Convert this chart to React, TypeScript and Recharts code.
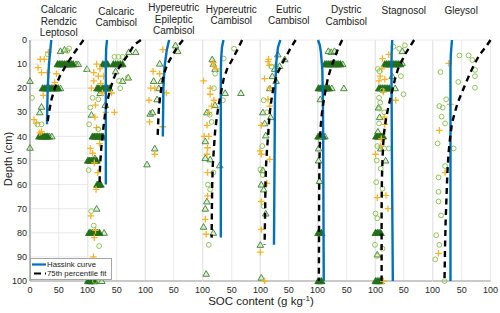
import React from "react";
import { ScatterChart, Scatter, XAxis, YAxis, CartesianGrid } from "recharts";

// ─── Data: [SOC content (g/kg), depth (cm)] ──────────────────────────────────
type P = [number, number];

const titles = [
  ["Calcaric", "Rendzic", "Leptosol"],
  ["Calcaric", "Cambisol"],
  ["Hypereutric", "Epileptic", "Cambisol"],
  ["Hypereutric", "Cambisol"],
  ["Eutric", "Cambisol"],
  ["Dystric", "Cambisol"],
  ["Stagnosol"],
  ["Gleysol"],
];

const xTicks = [0, 50, 100];
const depthTicks = [0, 10, 20, 30, 40, 50, 60, 70, 80, 90, 100];

const hassink: P[][] = [
  [[37, 0], [35, 5], [33, 10], [31, 19], [30, 28], [29.6, 35]],
  [[33, 0], [31.5, 4], [31, 10], [31, 60]],
  [[42, 0], [38, 4], [34, 11], [32, 20], [31, 40]],
  [[35.6, 0], [33, 3], [31.5, 8], [31, 14], [31, 82]],
  [[35.4, 0], [31.3, 3], [28, 10], [26, 25], [24.3, 85]],
  [[0, 0], [3, 2], [5, 5], [7.5, 12], [8.5, 25], [9, 40], [10, 100]],
  [[30, 0], [29, 5], [28.6, 12], [29.5, 50], [31, 100]],
  [[33, 0], [31, 6], [30.4, 12], [30.4, 100]],
];

const fit75: P[][] = [
  [[93, 0], [78, 5], [64, 10], [52, 15], [43, 20], [37, 25], [33, 30], [30, 35]],
  [[92, 0], [80, 2], [70, 6], [58, 10], [50, 13], [43, 17], [38, 21], [34, 25], [30, 30], [26, 38], [23, 45], [21, 52], [20, 60]],
  [[66, 0], [56, 3], [46, 7], [39, 10], [33, 14], [29, 19], [26, 24], [24, 29], [23, 34], [22, 40]],
  [[68, 0], [60, 4], [50, 8.5], [42, 12], [36, 16], [32, 21], [28, 26], [24, 32], [21, 38], [19, 45], [17, 52], [16, 60], [15.5, 70], [15, 82]],
  [[62, 0], [54, 3], [45, 7], [38, 10], [30, 14], [25, 18], [21, 23], [18, 28], [16, 33], [14, 40], [12, 46], [10.5, 52], [9.5, 60], [9, 70], [8, 85]],
  [[42, 0], [35, 3.5], [28, 8], [22, 12], [17, 16], [13, 21], [10, 25], [7, 30], [5, 35], [3.5, 40], [2.5, 50], [2, 65], [1.5, 100]],
  [[68, 0], [60, 3], [52, 6], [46, 9], [40, 12], [35, 16], [31, 20], [27, 24], [23, 28], [19, 33], [16, 38], [14, 44], [13, 50], [12, 58], [11.5, 70], [11.5, 100]],
  [[100, 0], [93, 2.5], [80, 6.5], [72, 10], [64, 14], [56, 18.5], [49, 22.5], [43, 26], [38, 30], [33, 34.5], [30, 40], [27, 47], [25, 55], [23.5, 65], [22, 75], [21, 85], [20, 100]],
];

const triangles: P[][] = [
  [[53, 4.6], [60, 4], [99, 12], [0, 17], [20, 27.7], [17, 30], [0, 44.7], [80, 10], [84, 10], [53, 20], [34, 40], [38, 40]],
  [[83, 5], [71, 5], [48, 13], [60, 17], [70, 15.6], [21, 22], [30, 27], [6, 31], [25, 40.5], [12, 49], [15, 70], [28, 80], [24, 100]],
  [[53, 2.2], [57, 4.6], [25.5, 9.8], [15, 17], [28, 17], [24, 20], [21, 24.6], [9, 30.6], [13, 30], [17, 45], [3.5, 51.6]],
  [[18, 10], [21, 12], [16, 8], [38.5, 22], [66, 22], [21, 27], [6.7, 30], [4, 42], [12.5, 49.5], [4, 49], [29, 52], [6.7, 67], [4, 70], [1, 77.5], [18, 80], [5.5, 97]],
  [[31, 6], [43, 8], [34, 10.8], [25.5, 12], [21.4, 15], [28, 17], [17, 20], [18.5, 32], [5, 30], [8, 34.6], [10, 39.6], [5, 54], [2.3, 60], [6.4, 62], [10, 72], [0.6, 85], [2.3, 98.6]],
  [[18, 4.6], [23, 5], [28.7, 4.6], [43, 10], [45, 20], [24, 20], [4, 24.6], [12, 40], [1, 45], [1, 50], [2.6, 58.5]],
  [[47.5, 4.6], [47, 9.5], [30, 15], [35, 20], [6, 28], [8, 32], [5, 38], [10, 45], [18.5, 50], [4, 89]],
  [],
];

const denseTriangles: P[][] = [
  [[48, 10], [51, 10], [54, 10], [57, 10], [60, 10], [63, 10], [66, 10], [69, 10], [72, 10], [75, 10],
   [22, 20], [25, 20], [28, 20], [31, 20], [34, 20], [37, 20], [40, 20], [43, 20], [46, 20], [49, 20],
   [16, 40], [19, 40], [22, 40], [25, 40], [28, 40], [31, 40]],
  [[26, 10], [30, 10], [34, 10], [44, 10], [48, 10], [52, 10], [56, 10], [60, 10],
   [16, 20], [19, 20], [22, 20], [25, 20], [28, 20], [31, 20], [34, 20], [37, 20],
   [8, 40], [11, 40], [14, 40], [17, 40], [20, 40], [23, 40], [26, 40],
   [0, 50], [3, 50], [6, 50], [9, 50], [12, 50], [15, 50],
   [16, 60], [19, 60], [22, 60],
   [2, 80], [5, 80], [8, 80], [11, 80], [14, 80], [17, 80], [20, 80],
   [0, 100], [3, 100], [6, 100], [9, 100], [12, 100]],
  [],
  [],
  [],
  [[12, 10], [15, 10], [18, 10], [21, 10], [24, 10], [27, 10], [30, 10], [33, 10], [36, 10], [39, 10],
   [1, 20], [4, 20], [7, 20], [10, 20], [13, 20], [16, 20], [19, 20],
   [0.5, 40], [3, 40], [6, 40], [9, 40],
   [0.5, 80], [3, 80], [6, 80],
   [0.5, 100], [3, 100], [6, 100]],
  [[17, 10], [20, 10], [23, 10], [26, 10], [29, 10], [32, 10], [35, 10], [38, 10], [41, 10], [44, 10],
   [7, 20], [10, 20], [13, 20], [16, 20], [19, 20], [22, 20], [25, 20],
   [2, 40], [5, 40], [8, 40], [11, 40], [14, 40],
   [1, 80], [4, 80], [7, 80], [10, 80],
   [1, 100], [4, 100], [7, 100], [10, 100]],
  [],
];

const pluses: P[][] = [
  [[18, 8], [25, 8], [32, 5], [14, 11.5], [20, 13.5], [30, 13.5], [46, 14], [43, 17.7], [23, 23], [7, 33], [11, 34.5], [17, 38.5], [20, 38]],
  [[15, 10], [21, 12], [10, 13.5], [18, 15], [27, 15], [10, 17], [22, 18], [6, 20], [25, 22], [41, 22], [13, 27], [46, 30], [31, 30], [12, 32], [15, 36.4], [20, 43], [4, 45], [8, 47], [11, 51], [17, 55], [14, 62], [5, 73], [13, 79], [11, 82], [9.5, 90]],
  [[31, 4], [14, 13], [25.5, 14], [17, 20], [10, 20], [37, 22], [7, 25], [8, 34], [31, 36], [17, 47.4]],
  [[18, 9.4], [19, 10.8], [23, 12], [1, 17], [12.5, 20], [12.5, 22.5], [19, 25], [15, 27.4], [10, 30], [7, 35.4], [2, 40], [10, 40], [8, 44.7], [7, 47.4], [8, 55], [8, 64.7], [4, 74.4], [5.5, 80.6]],
  [[15, 8], [14, 9], [16, 10.5], [8, 16], [17, 20], [14, 24.6], [17, 27.4], [2.3, 35.4], [0, 46], [2.3, 47.4], [17, 49.5], [12, 59.5], [2.3, 67], [2.3, 78.6], [0.6, 88], [8, 100]],
  [],
  [[13, 7.7], [24, 6], [12, 12], [9, 15], [17, 16.3], [7, 17], [14.5, 21.6], [36, 25], [16, 32], [17, 35], [11, 41], [10, 44], [1, 47.4], [19, 64.5], [4, 65.4], [22.6, 70], [14.5, 100]],
  [[27.5, 9.7], [30, 26.7], [11, 37.5], [21, 55], [9.6, 88.5]],
];

const circles: P[][] = [
  [[65, 4.5], [68, 3.5], [31, 6], [3.5, 24], [20, 35], [13, 35]],
  [[46, 7], [53, 7], [60, 7], [69, 15.6], [54, 17], [56, 20], [8, 24], [18, 24.6], [4, 28], [2, 35], [18, 37], [1, 54], [5.5, 71], [10, 77], [19.4, 85.5], [12, 100]],
  [],
  [[54, 3.6], [36, 7.7], [21, 14], [19, 20], [34.5, 25], [11.6, 31], [15, 34], [18, 55], [8.6, 60], [12.5, 62], [10, 85]],
  [[28, 10.8], [20, 11], [6.4, 25], [12, 30], [4, 44], [0.6, 53.7], [5, 56], [6.4, 69]],
  [[5, 42]],
  [[32, 2.8], [42, 3.6], [52, 2.2], [5, 12], [8, 13], [45, 15], [13, 21], [49.6, 22.5], [7, 24], [9, 26], [7.5, 28.5], [16, 30], [7, 34.6], [4, 44], [24, 45], [16, 45], [3, 50], [10, 53.4], [2, 59], [13, 61.7], [1, 72], [4, 74], [0, 85], [13, 86.6], [4, 89.6]],
  [[46, 6.4], [62, 6.4], [68.4, 8.3], [73, 12.4], [13, 13.3], [73, 15], [44, 17.4], [73, 19.8], [23, 24.6], [11, 27.4], [17, 28], [15, 31.8], [21, 34.6], [8, 42.9], [36, 45], [21, 52.3], [9.6, 57], [9.6, 63], [9.6, 67], [14, 72.8], [5.5, 81], [11, 85], [4, 91], [20, 100]],
];

// ─── Layout ──────────────────────────────────────────────────────────────────
const FONT = '"Liberation Sans", Arial, sans-serif';
const PLOT_LEFT = 30;
const PANEL_W = 57.5;
const PLOT_TOP = 40;
const H = 313;
const titleTops = [4, 5.5, 2, 3.5, 3.5, 4, 5, 5];

const toPts = (arr: P[]) => arr.map(([v, d]) => ({ v, d }));

// ─── Marker shapes ───────────────────────────────────────────────────────────
const Tri = ({ cx, cy }: any) => (
  <path d={`M${cx},${cy - 3.2}L${cx + 3.3},${cy + 2.5}L${cx - 3.3},${cy + 2.5}Z`}
    fill="#b7d9a5" fillOpacity={0.45} stroke="#3f8034" strokeWidth={0.9} />
);
const DenseTri = ({ cx, cy }: any) => (
  <path d={`M${cx},${cy - 3.5}L${cx + 3.6},${cy + 2.7}L${cx - 3.6},${cy + 2.7}Z`}
    fill="#1f6a17" stroke="#2a7420" strokeWidth={0.8} />
);
const Plus = ({ cx, cy }: any) => (
  <path d={`M${cx - 3.3},${cy}H${cx + 3.3}M${cx},${cy - 3.3}V${cy + 3.3}`}
    stroke="#f5b42a" strokeWidth={1.3} fill="none" />
);
const Ring = ({ cx, cy }: any) => (
  <circle cx={cx} cy={cy} r={2.4} fill="none" stroke="#8fc45a" strokeWidth={1} />
);
const Nothing = () => <g />;

const tickStyle = { fontSize: 9, fill: "#262626", fontFamily: FONT };

// ─── One soil panel ──────────────────────────────────────────────────────────
const Panel = ({ i }: { i: number }) => {
  const first = i === 0;
  const yw = first ? 30 : 0;
  const ml = first ? 0 : 5;
  const mr = 10;
  const width = ml + yw + PANEL_W + mr;
  const left = PLOT_LEFT + PANEL_W * i - yw - ml;
  return (
    <div style={{ position: "absolute", left, top: 0 }}>
      <ScatterChart width={width} height={H} margin={{ top: PLOT_TOP, right: mr, bottom: 2, left: ml }}>
        <CartesianGrid stroke="#e4e4e4" strokeWidth={0.8} />
        <XAxis type="number" dataKey="v" domain={[0, 100]} ticks={xTicks} interval={0} height={30}
          tickLine={false} tickSize={4} tickMargin={2}
          axisLine={{ stroke: "#9d9d9d" }}
          tick={tickStyle}
          tickFormatter={(t: number) => (t === 0 && !first ? "" : String(t))} />
        <YAxis type="number" dataKey="d" domain={[0, 100]} reversed ticks={depthTicks} interval={0}
          width={yw} tickLine={false} tickSize={3} tickMargin={0}
          axisLine={{ stroke: "#a8a8a8", strokeWidth: 1.5 }}
          tick={first ? tickStyle : false} />
        <Scatter data={toPts(triangles[i])} shape={Tri} isAnimationActive={false} />
        <Scatter data={toPts(denseTriangles[i])} shape={DenseTri} isAnimationActive={false} />
        <Scatter data={toPts(pluses[i])} shape={Plus} isAnimationActive={false} />
        <Scatter data={toPts(circles[i])} shape={Ring} isAnimationActive={false} />
        <Scatter data={toPts(hassink[i])} shape={Nothing} isAnimationActive={false}
          line={{ stroke: "#0072BD", strokeWidth: 2.4 }} />
        <Scatter data={toPts(fit75[i])} shape={Nothing} isAnimationActive={false}
          line={{ stroke: "#000000", strokeWidth: 2.4, strokeDasharray: "6 4.5" }} />
      </ScatterChart>
    </div>
  );
};

// ─── Chart ───────────────────────────────────────────────────────────────────
export default function App() {
  return (
    <div style={{ position: "absolute", left: 0, top: 0, width: 500, height: H, background: "#fff", fontFamily: FONT, color: "#222" }}>
      {titles.map((lines, i) => (
        <div key={i} style={{
          position: "absolute", left: PLOT_LEFT + PANEL_W * i - 15, width: PANEL_W + 30, top: titleTops[i],
          textAlign: "center", fontSize: 10, lineHeight: "11.5px",
        }}>
          {lines.map((l) => <div key={l}>{l}</div>)}
        </div>
      ))}

      {titles.map((_, i) => <Panel key={i} i={i} />)}

      {/* legend */}
      <div style={{
        position: "absolute", left: 30, top: 258, width: 82, height: 22, background: "#fff",
        border: "1px solid #a6a6a6", boxSizing: "border-box", fontSize: 7.8, lineHeight: "9.5px",
        whiteSpace: "nowrap",
      }}>
        <div style={{ display: "flex", alignItems: "center", height: 9.5, marginTop: 0.5 }}>
          <svg width={16} height={9} style={{ flexShrink: 0 }}><line x1={1} y1={4.5} x2={15} y2={4.5} stroke="#0072BD" strokeWidth={2.2} /></svg>
          <span>Hassink curve</span>
        </div>
        <div style={{ display: "flex", alignItems: "center", height: 9.5 }}>
          <svg width={16} height={9} style={{ flexShrink: 0 }}><line x1={3} y1={4.5} x2={15} y2={4.5} stroke="#000" strokeWidth={2.2} strokeDasharray="7 4" /></svg>
          <span>75th percentile fit</span>
        </div>
      </div>

      {/* axis titles */}
      <div style={{
        position: "absolute", left: 8 - 40, top: 160 - 7, width: 80, textAlign: "center",
        fontSize: 11, transform: "rotate(-90deg)", whiteSpace: "nowrap",
      }}>Depth (cm)</div>
      <div style={{
        position: "absolute", left: 160, width: 202, top: 294, textAlign: "center", fontSize: 11.5, whiteSpace: "nowrap",
      }}>
        SOC content (g kg<sup style={{ fontSize: 8, verticalAlign: "4px" }}>-1</sup>)
      </div>
    </div>
  );
}
